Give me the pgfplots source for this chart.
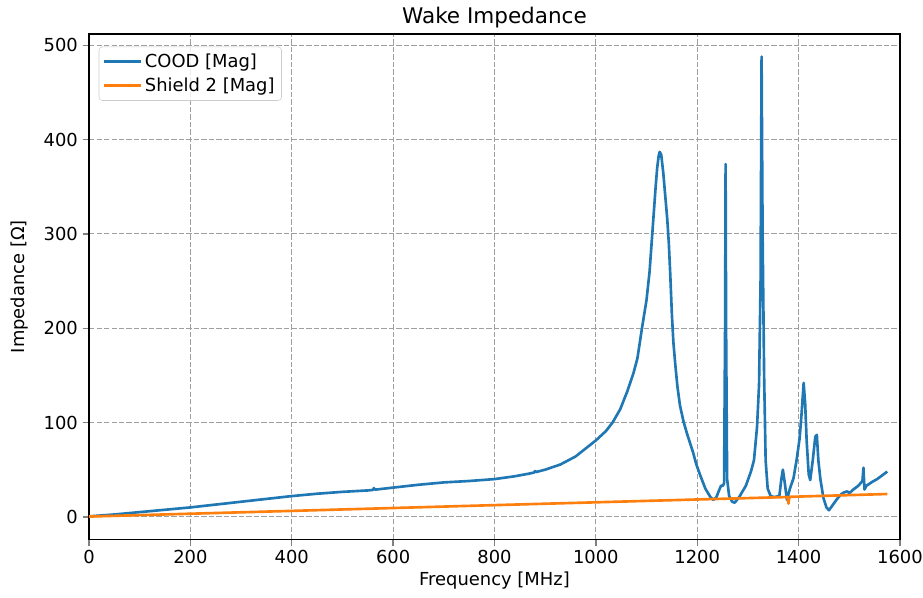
\documentclass[border=0pt]{standalone}
\usepackage{fontspec}
\setmainfont{DejaVu Sans}
\usepackage{pgfplots}
\pgfplotsset{compat=1.18}
\definecolor{mplblue}{HTML}{1F77B4}
\definecolor{mplorange}{HTML}{FF7F0E}
\newcommand{\lblfont}{\fontsize{12.9}{15.5}\selectfont}
\begin{document}
\begin{tikzpicture}
  \begin{axis}[
      scale only axis,
      width=584pt, height=364pt,
      xmin=0, xmax=1600, ymin=-24, ymax=512,
      xtick={0,200,...,1600}, ytick={0,100,...,500},
      /pgf/number format/assume math mode=true,
      /pgf/number format/1000 sep={},
      tick label style={font=\lblfont},
      tick align=outside, xtick pos=bottom, ytick pos=left,
      major tick length=4.5pt,
      major tick style={line width=1pt},
      axis line style={line width=1pt},
      grid=major, grid style={dash pattern=on 3.8pt off 1.6pt, gray!75, line width=0.75pt},
      xlabel={Frequency [MHz]},
      ylabel={Impedance [Ω]},
      label style={font=\lblfont},
      xlabel style={at={(axis description cs:0.5,-0.081)}, anchor=center, yshift=0pt},
      ylabel style={at={(axis description cs:-0.0856,0.5)}, anchor=center, xshift=0pt},
      legend style={at={(axis description cs:0.012,0.975)}, anchor=north west,
                    draw=black!20, rounded corners=2.5pt, fill=white,
                    fill opacity=0.8, text opacity=1,
                    font=\lblfont, row sep=2pt, inner sep=3pt,
                    cells={anchor=west}},
      legend image code/.code={\draw[#1] (0cm,0cm) -- (0.92cm,0cm);},
    ]
    \addplot[mplblue, line width=1.9pt, line join=round] coordinates {
      (0,0.5) (50,2.5) (100,5) (150,7.5) (200,10) (250,13) (300,16) (350,19)
      (400,22) (450,24.5) (500,26.5) (550,28) (560,28.5) (562,30.5) (564,28.8)
      (600,31) (650,34) (700,36.5) (750,38) (800,40) (840,43) (870,46)
      (878,47) (880,48.5) (882,47.5) (900,50) (930,55.5) (960,64) (1000,81)
      (1020,91) (1033,100) (1048,114) (1062,133) (1074,152) (1082,168)
      (1091,200) (1100,230) (1106,260) (1110,290) (1114,320) (1118,350)
      (1121,370) (1124,383) (1126,387) (1129,384) (1133,365) (1137,340)
      (1141,315) (1144,290) (1147,255) (1150,215) (1153,185) (1157,160)
      (1161,138) (1166,118) (1173,101)
      (1180,88) (1186,78) (1192,68) (1198,56) (1206,44) (1216,30) (1226,21)
      (1232,18) (1238,21) (1243,28) (1247,33) (1251,33) (1253,36) (1255,200)
      (1256,374) (1257,200) (1259,40) (1263,22) (1269,16) (1274,15) (1284,22)
      (1296,33) (1306,48) (1312,60) (1318,95) (1322,140) (1325,250) (1327,488)
      (1329,300) (1332,150) (1335,60) (1339,30) (1345,22) (1352,21) (1362,22)
      (1366,40) (1369,50) (1373,35) (1377,18) (1383,30) (1390,41) (1396,60)
      (1402,83) (1406,110) (1410,142) (1413,120) (1416,80) (1420,45) (1423,39)
      (1428,60) (1433,85) (1436,87) (1439,60) (1443,40) (1449,20) (1455,10)
      (1460,7) (1468,13) (1476,19) (1484,24) (1490,26) (1496,27) (1500,25)
      (1508,29) (1518,33) (1526,38) (1528,52) (1530,29) (1534,33) (1545,37)
      (1555,40) (1565,44) (1575,48)
    };
    \addlegendentry{COOD [Mag]}
    \addplot[mplorange, line width=1.9pt, line join=round] coordinates {
      (0,0.3) (400,6.3) (800,12.4) (1200,18.4) (1378,21) (1380,14)
      (1382,21.2) (1575,24.2)
    };
    \addlegendentry{Shield 2 [Mag]}
  \end{axis}
  % title
  \node[font=\fontsize{15.5}{18}\selectfont, anchor=center]
    at ([yshift=12pt]current axis.north) {Wake Impedance};
  \pgfresetboundingbox
  \path ([shift={(-64.1pt,-41.8pt)}]current axis.south west)
    rectangle ([shift={(16.6pt,24.5pt)}]current axis.north east);
\end{tikzpicture}
\end{document}
